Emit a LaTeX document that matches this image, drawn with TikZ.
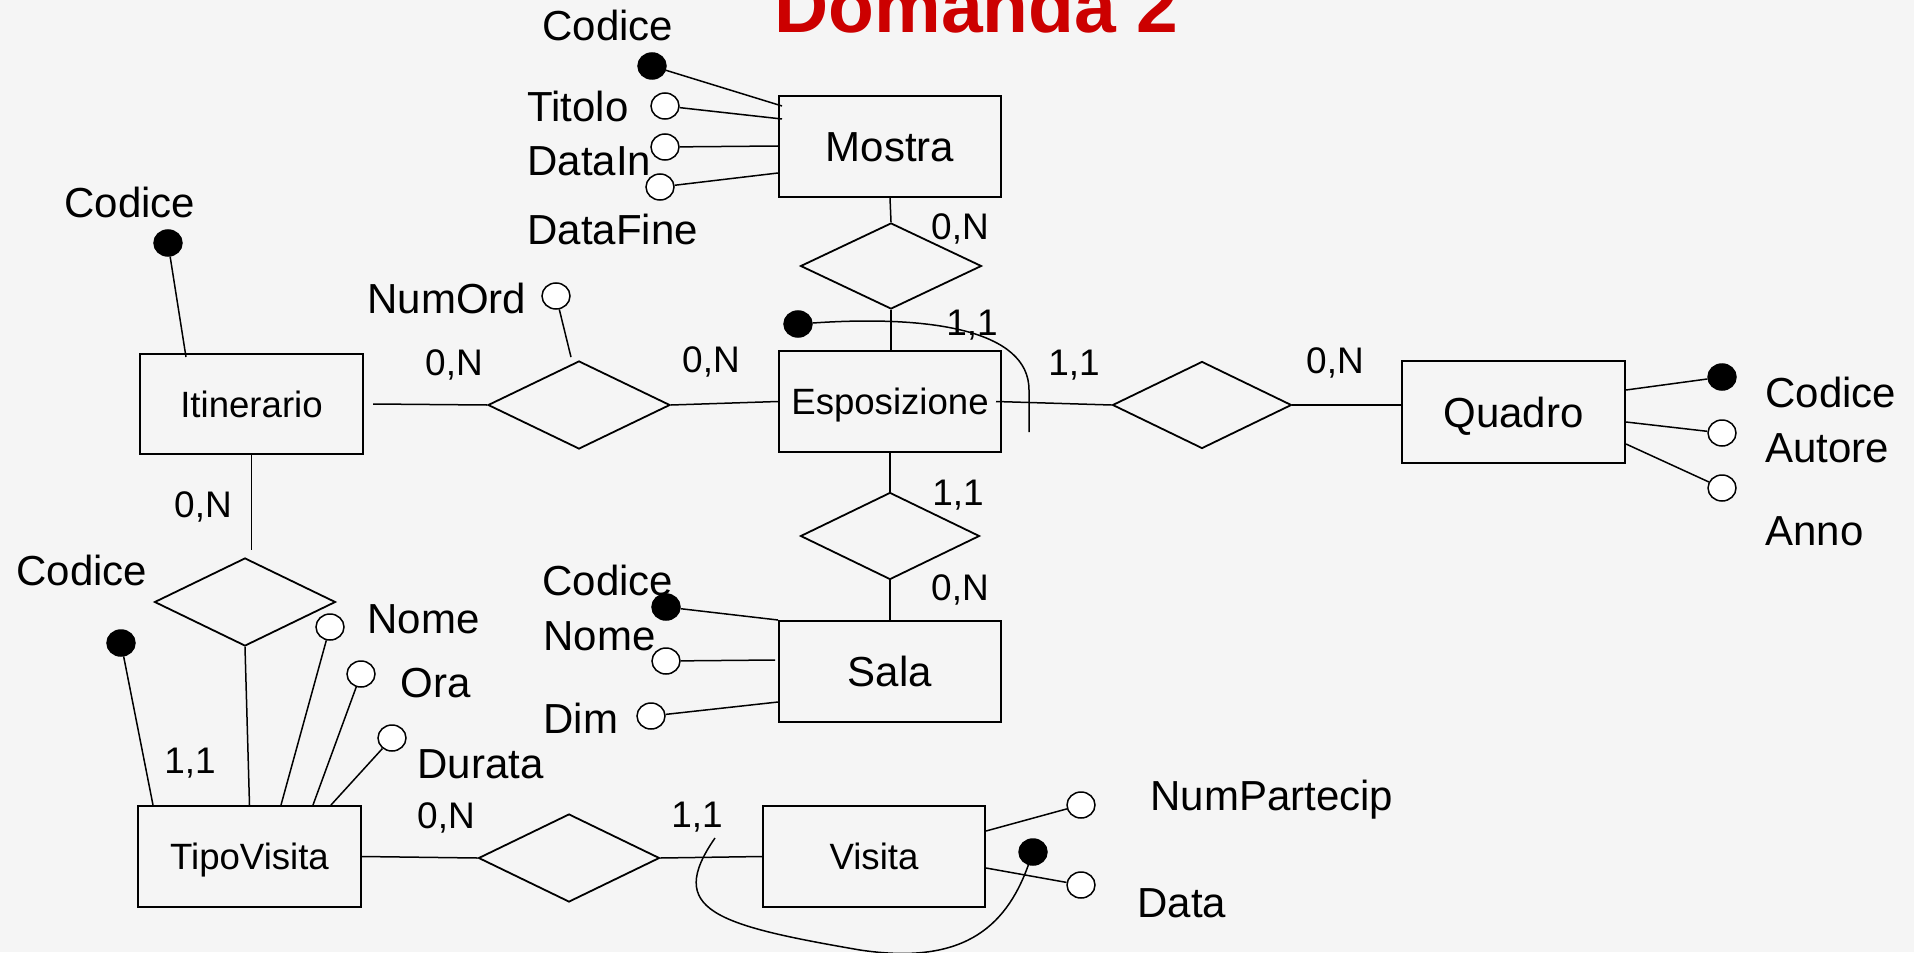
\documentclass[tikz,border=0pt]{standalone}
\usepackage{fontspec}
\setmainfont{Liberation Sans}
\usetikzlibrary{shapes.geometric,calc}
\definecolor{bg}{HTML}{F5F5F5}
\definecolor{titlered}{HTML}{CC0000}
\begin{document}
\begin{tikzpicture}[x=0.5pt,y=-0.5pt,
 ent/.style={draw, line width=1pt, minimum width=111pt, minimum height=50.5pt, inner sep=0pt,
   font=\fontsize{21}{21}\selectfont, text height=15pt, text depth=0pt},
 ents/.style={ent, font=\fontsize{18.3}{18.3}\selectfont, text height=13.1pt},
 rel/.style={diamond, draw, line width=0.9pt, inner sep=0pt},
 key/.style={ellipse, draw, fill=black, minimum width=14pt, minimum height=13pt, inner sep=0pt, line width=0.75pt},
 att/.style={ellipse, draw, fill=white, minimum width=14pt, minimum height=13pt, inner sep=0pt, line width=0.75pt},
 lbl/.style={anchor=base west, inner sep=0pt, font=\fontsize{21}{21}\selectfont},
 card/.style={anchor=base, inner sep=0pt, font=\fontsize{18.5}{18.5}\selectfont},
 conn/.style={line width=0.75pt}]
\fill[bg] (0,0) rectangle (1914,952);
\useasboundingbox (0,0) rectangle (1914,952);

% title
\node[anchor=base west, inner sep=0pt, text=titlered, font=\fontsize{37.5}{37.5}\selectfont\bfseries] (title) at (774,33) {Domanda 2};

% entities
\node[ent]  (mostra) at (890,146.5) {Mostra};
\node[ents] (espo)   at (890,401.5) {Esposizione};
\node[ents, minimum width=111.5pt, minimum height=50pt] (itin) at (251.5,404) {Itinerario};
\node[ent, minimum width=111.5pt, minimum height=51pt] (quadro) at (1513.5,412) {Quadro};
\node[ent]  (sala)   at (890,671.5) {Sala};
\node[ents, minimum width=111.5pt] (tipo) at (249.5,856.5) {TipoVisita};
\node[ents] (visita) at (874,856.5) {Visita};

% relationships
\node[rel, minimum width=90.5pt, minimum height=43pt] (rMostra) at (891,266) {};
\node[rel, minimum width=91pt, minimum height=44pt] (rNum) at (579,405) {};
\node[rel, minimum width=89.5pt, minimum height=43.5pt] (rQuadro) at (1202,405) {};
\node[rel, minimum width=89.5pt, minimum height=43.5pt] (rSala) at (890,536) {};
\node[rel, minimum width=90.5pt, minimum height=44pt] (rTipo) at (245,602) {};
\node[rel, minimum width=90.5pt, minimum height=44pt] (rVisita) at (569,858) {};

% relationship connectors
\draw[conn] (mostra.south) -- (rMostra.north);
\draw[conn] (rMostra.south) -- (rMostra.south |- espo.north);
\draw[conn] ([xshift=4.5pt]itin.east) -- (rNum.west);
\draw[conn] (rNum.east) -- (espo.west);
\draw[conn] ([xshift=-3pt]espo.east) -- (rQuadro.west);
\draw[conn] (rQuadro.east) -- (rQuadro.east -| quadro.west);
\draw[conn] (espo.south) -- (rSala.north);
\draw[conn] (rSala.south) -- (sala.north);
\coordinate (itb) at (250,550);
\draw[conn] (itin.south) -- (itin.south |- itb);
\draw[conn] (rTipo.south) -- (tipo.north);
\draw[conn] (tipo.east) -- (rVisita.west);
\draw[conn] (rVisita.east) -- (visita.west);

% Mostra attributes
\node[key] (mc)  at (652,66) {};
\node[att] (mt)  at (665,106) {};
\node[att] (mdi) at (665,147) {};
\node[att] (mdf) at (660,187) {};
\draw[conn] (mc)  -- ([shift={(4,11)}]mostra.north west);
\draw[conn] (mt)  -- ([shift={(4,24)}]mostra.north west);
\draw[conn] (mdi) -- ([shift={(0,51)}]mostra.north west);
\draw[conn] (mdf) -- ([shift={(0,78)}]mostra.north west);
\node[lbl] (lmc)  at (542,41)  {Codice};
\node[lbl] (lmt)  at (527,122) {Titolo};
\node[lbl] (lmdi) at (527,176) {DataIn};
\node[lbl] (lmdf) at (527,244) {DataFine};

% Itinerario attribute
\node[key] (ic) at (168,243) {};
\draw[conn] (ic) -- ([shift={(47,4)}]itin.north west);
\node[lbl] (lic) at (64,218) {Codice};

% NumOrd
\node[att] (nc) at (556,296) {};
\draw[conn] (nc) -- ([shift={(-8,-3)}]rNum.north);
\node[lbl] (lnc) at (367,313) {NumOrd};

% Esposizione identifier
\node[key] (ek) at (798,324) {};
\coordinate (ecEnd) at (1029,432);
\draw[conn] (ek) .. controls (930,315) and (1029,330) .. (1029,390) -- (ecEnd);

% Quadro attributes
\node[key] (qc) at (1722,377) {};
\node[att] (qa) at (1722,433) {};
\node[att] (qn) at (1722,488) {};
\draw[conn] (qc) -- ([shift={(0,30)}]quadro.north east);
\draw[conn] (qa) -- ([shift={(0,62)}]quadro.north east);
\draw[conn] (qn) -- ([shift={(0,84)}]quadro.north east);
\node[lbl] (lqc) at (1765,407) {Codice};
\node[lbl] (lqa) at (1765,462) {Autore};
\node[lbl] (lqn) at (1765,545) {Anno};

% Sala attributes
\node[key] (sc) at (666,607) {};
\node[att] (sn) at (666,661) {};
\node[att] (sd) at (651,716) {};
\draw[conn] (sc) -- (sala.north west);
\draw[conn] (sn) -- ([shift={(-3,40)}]sala.north west);
\draw[conn] (sd) -- ([shift={(0,82)}]sala.north west);
\node[lbl] (lsc) at (542,595) {Codice};
\node[lbl] (lsn) at (543,650) {Nome};
\node[lbl] (lsd) at (543,733) {Dim};

% TipoVisita attributes
\node[key] (tc) at (121,643) {};
\node[att] (tn) at (330,627) {};
\node[att] (to) at (361,674) {};
\node[att] (td) at (392,738) {};
\draw[conn] (tc) -- ([shift={(16,0)}]tipo.north west);
\draw[conn] (tn) -- ([shift={(144,0)}]tipo.north west);
\draw[conn] (to) -- ([shift={(176,0)}]tipo.north west);
\draw[conn] (td) -- ([shift={(194,0)}]tipo.north west);
\node[lbl] (ltc) at (16,585)  {Codice};
\node[lbl] (ltn) at (367,633) {Nome};
\node[lbl] (lto) at (400,697) {Ora};
\node[lbl] (ltd) at (417,778) {Durata};

% Visita attributes
\node[att] (vn) at (1081,805) {};
\node[att] (vd) at (1081,885) {};
\node[key] (vk) at (1033,852) {};
\draw[conn] (vn) -- ([shift={(0,26)}]visita.north east);
\draw[conn] (vd) -- ([shift={(0,63)}]visita.north east);
\node[lbl] (lvn) at (1150,810) {NumPartecip};
\node[lbl] (lvd) at (1137,917) {Data};
\coordinate (vcStart) at (715,838);
\draw[conn] (vcStart) .. controls (665,910) and (715,925) .. (860,950) .. controls (960,965) and (1005,930) .. (vk);

% cardinalities
\node[card] (c1)  at (960,240) {0,N};
\node[card] (c2)  at (972,335) {1,1};
\node[card] (c3)  at (1074,375) {1,1};
\node[card] (c4)  at (1335,373) {0,N};
\node[card] (c5)  at (454,375) {0,N};
\node[card] (c6)  at (711,372) {0,N};
\node[card] (c7)  at (203,517) {0,N};
\node[card] (c8)  at (958,505) {1,1};
\node[card] (c9)  at (960,600) {0,N};
\node[card] (c10) at (190,773) {1,1};
\node[card] (c11) at (446,828) {0,N};
\node[card] (c12) at (697,827) {1,1};
\end{tikzpicture}
\end{document}
